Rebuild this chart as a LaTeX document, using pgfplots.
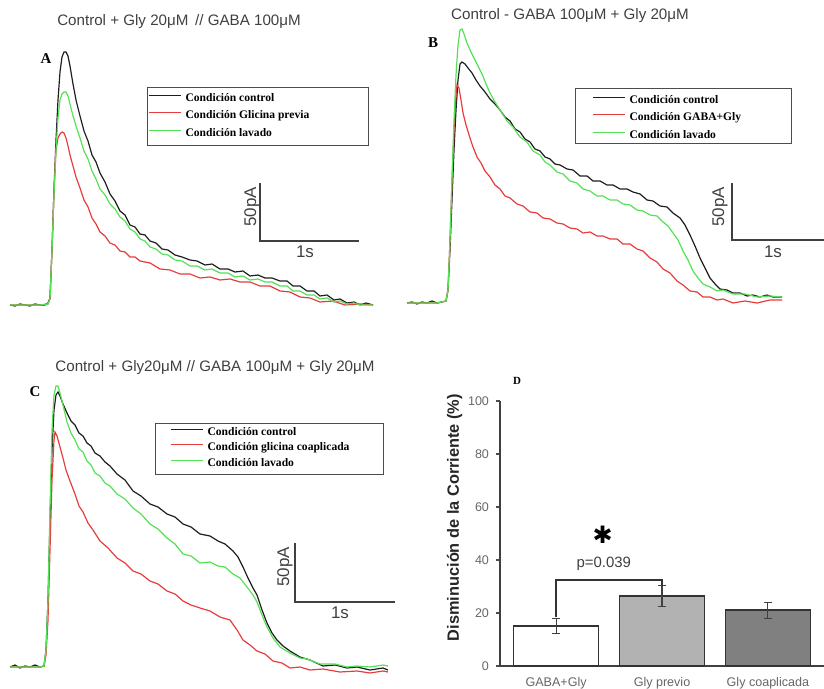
\documentclass[border=0pt]{standalone}
\usepackage{pgfplots}
\pgfplotsset{compat=1.18}
\usepackage{fontspec}
\setmainfont{Liberation Serif}
\setsansfont{Liberation Sans}
\newfontfamily\djv{DejaVu Sans}
\definecolor{tblack}{RGB}{30,30,30}
\definecolor{tred}{RGB}{232,60,60}
\definecolor{tgreen}{RGB}{85,225,85}
\newcommand\tfont{\sffamily\fontsize{7.6}{9}\selectfont\color{black!75}}
\newcommand\lfont{\rmfamily\bfseries\fontsize{5.8}{6.5}\selectfont}
\newcommand\sfont{\sffamily\fontsize{8.5}{10}\selectfont\color{black!75}}
\newcommand\pfont{\rmfamily\bfseries\fontsize{7.5}{9}\selectfont}
\pgfplotsset{
  pix/.style={at={(0,0)}, anchor=south west, scale only axis, width=412bp, height=344.5bp,
    xmin=0, xmax=824, ymin=0, ymax=689, y dir=reverse, hide axis, clip=false,
    legend cell align=left,
    legend image code/.code={\draw[##1, line width=0.6pt] (0bp,1.6bp) -- (16bp,1.6bp);},
    legend style={draw=none, fill=none, inner sep=0pt, row sep=3.25bp,
      nodes={inner sep=0pt, text height=4.2bp, text depth=1.3bp, font=\lfont},
      /tikz/every odd column/.append style={column sep=2bp}}},
  tr/.style={line width=0.6pt, no marks},
}
\begin{document}
\begin{tikzpicture}
\useasboundingbox (0,0) rectangle (412bp,344.5bp);
% ---------------- Panel A ----------------
\begin{axis}[pix, legend style={at={(axis cs:148,92.6)}, anchor=north west}]
\addplot[tr, tblack] coordinates {(10,305)(15,306)(20,304)(25,305)(30,306)(35,304)(40,305)(45,305)(48,303)(50,298)(52,250)(54,190)(56,140)(58,100)(60,72)(62,57)(64,52)(66,52)(68,56)(70,66)(73,84)(76,100)(80,116)(84,131)(88,141)(92,155)(96,162)(100,173)(105,182)(110,194)(115,201)(120,211)(125,215)(130,225)(135,227)(140,234)(145,235)(150,241)(156,243)(162,249)(168,250)(175,255)(182,257)(190,260)(197,261)(205,265)(212,264)(220,269)(228,269)(235,272)(243,271)(250,276)(258,275)(265,278)(272,278)(280,281)(287,281)(293,286)(300,286)(307,291)(314,291)(320,296)(327,295)(334,300)(340,299)(347,303)(354,302)(360,305)(366,303)(373,305)};
\addlegendentry{Condición control}
\addplot[tr, tred] coordinates {(10,305)(20,305)(30,305)(40,305)(48,304)(50,299)(52,250)(54,190)(56,150)(58,138)(60,134)(62,132)(64,133)(66,138)(68,146)(70,155)(73,166)(76,177)(80,188)(84,200)(88,207)(92,218)(96,224)(100,232)(105,236)(110,243)(115,245)(120,251)(125,252)(130,257)(135,257)(140,261)(150,263)(160,269)(170,270)(180,274)(190,274)(200,278)(210,277)(220,280)(230,279)(240,282)(250,282)(260,286)(270,286)(280,291)(290,292)(300,297)(310,298)(320,302)(333,301)(345,305)(360,304)(373,305)};
\addlegendentry{Condición Glicina previa}
\addplot[tr, tgreen] coordinates {(10,305)(20,305)(30,305)(40,305)(48,304)(50,299)(52,250)(54,195)(56,150)(58,118)(60,100)(62,94)(64,92)(66,92)(68,96)(70,104)(73,116)(76,126)(80,138)(84,151)(88,159)(92,171)(96,179)(100,189)(105,195)(110,204)(115,209)(120,217)(125,221)(130,229)(135,232)(140,239)(145,241)(150,247)(156,249)(162,254)(168,255)(175,260)(182,261)(190,266)(197,266)(205,270)(212,269)(220,273)(228,273)(235,277)(243,276)(250,280)(258,279)(265,282)(272,282)(280,286)(287,286)(293,291)(300,291)(307,295)(314,295)(320,299)(327,298)(334,302)(340,301)(347,304)(354,303)(360,305)(373,305)};
\addlegendentry{Condición lavado}
\draw[black!70, line width=0.5pt] (axis cs:147,88) rectangle (axis cs:368,146);
\draw[black!75, line width=0.6pt] (axis cs:260,183) -- (axis cs:260,241) -- (axis cs:359,241);
\node[rotate=90] at (axis cs:252,207) {\sfont 50pA};
\node at (axis cs:305,252) {\sfont 1s};
\node at (axis cs:179,22) {\tfont Control + Gly 20μM \,// GABA 100μM};
\node at (axis cs:46,59) {\pfont A};
\end{axis}
% ---------------- Panel B ----------------
\begin{axis}[pix, legend style={at={(axis cs:592,94.5)}, anchor=north west}]
\addplot[tr, tblack] coordinates {(407,303)(412,302)(417,304)(422,302)(427,303)(432,301)(437,303)(442,302)(446,301)(448,290)(450,250)(452,200)(454,150)(456,110)(458,80)(460,64)(462,62)(465,64)(468,68)(472,73)(476,80)(480,86)(485,92)(490,99)(495,104)(500,110)(505,117)(510,121)(515,129)(520,132)(525,139)(530,142)(535,149)(540,151)(545,157)(550,159)(555,164)(560,165)(567,169)(573,170)(580,176)(587,176)(593,181)(600,181)(607,185)(613,185)(620,189)(627,189)(633,192)(640,194)(647,200)(653,201)(660,206)(667,207)(673,213)(680,218)(685,225)(690,235)(695,246)(700,258)(705,268)(710,278)(715,284)(720,289)(727,290)(733,293)(740,293)(747,296)(753,295)(760,297)(767,295)(773,297)(782,297)};
\addlegendentry{Condición control}
\addplot[tr, tred] coordinates {(407,303)(417,303)(427,303)(437,303)(446,301)(448,290)(450,240)(452,180)(454,130)(456,95)(457,85)(459,88)(461,100)(463,113)(466,125)(470,138)(473,147)(477,157)(481,163)(485,171)(490,177)(495,185)(500,189)(505,196)(510,198)(517,204)(523,206)(530,212)(537,213)(543,218)(550,219)(557,223)(563,224)(570,228)(577,229)(583,233)(590,232)(597,236)(603,236)(610,239)(617,239)(623,244)(630,244)(637,249)(643,251)(650,258)(657,262)(663,269)(670,273)(677,281)(683,285)(690,291)(697,292)(703,297)(710,297)(717,300)(723,299)(733,303)(745,301)(757,303)(770,300)(782,300)};
\addlegendentry{Condición GABA+Gly}
\addplot[tr, tgreen] coordinates {(407,303)(417,303)(427,303)(437,303)(446,301)(448,290)(450,240)(452,180)(454,120)(456,75)(458,45)(460,30)(462,29)(464,34)(467,43)(470,50)(474,58)(478,66)(482,74)(486,84)(490,93)(495,102)(500,110)(507,121)(513,127)(520,137)(527,142)(533,151)(540,155)(545,162)(550,165)(557,172)(563,174)(570,181)(577,183)(583,189)(590,191)(597,196)(603,196)(610,200)(617,200)(623,204)(630,205)(637,210)(643,211)(650,215)(657,216)(663,222)(668,226)(673,233)(678,240)(683,251)(688,260)(693,271)(698,278)(703,284)(710,287)(717,291)(723,290)(733,294)(745,294)(757,297)(770,296)(782,297)};
\addlegendentry{Condición lavado}
\draw[black!70, line width=0.5pt] (axis cs:575,89) rectangle (axis cs:791,144);
\draw[black!75, line width=0.6pt] (axis cs:732,183) -- (axis cs:732,240) -- (axis cs:824,240);
\node[rotate=90] at (axis cs:720,207) {\sfont 50pA};
\node at (axis cs:773,252) {\sfont 1s};
\node at (axis cs:570,16) {\tfont Control - GABA 100μM + Gly 20μM};
\node at (axis cs:433,43) {\pfont B};
\end{axis}
% ---------------- Panel C ----------------
\begin{axis}[pix, legend style={at={(axis cs:170,426.5)}, anchor=north west, row sep=2.3bp}]
\addplot[tr, tblack] coordinates {(10,667)(15,665)(20,668)(25,666)(30,667)(35,665)(40,667)(44,666)(46,650)(48,600)(50,520)(52,450)(54,410)(56,395)(58,392)(60,396)(63,404)(67,413)(71,421)(75,425)(79,433)(83,436)(87,443)(91,446)(95,453)(100,456)(105,462)(110,466)(117,474)(125,480)(133,491)(141,496)(150,504)(158,507)(167,514)(175,517)(183,524)(191,527)(200,534)(210,536)(218,541)(225,544)(233,551)(238,557)(243,567)(248,578)(253,588)(257,595)(262,610)(267,623)(272,633)(277,640)(283,646)(290,651)(300,657)(310,660)(323,666)(335,665)(347,668)(357,667)(370,670)(383,668)(388,670)};
\addlegendentry{Condición control}
\addplot[tr, tred] coordinates {(10,667)(20,667)(30,667)(40,667)(44,666)(46,655)(48,620)(50,550)(52,480)(54,440)(55,432)(57,436)(60,447)(63,458)(66,470)(70,481)(75,494)(79,506)(83,512)(88,523)(93,530)(100,541)(108,548)(117,558)(125,563)(133,571)(141,574)(150,581)(158,584)(167,591)(175,594)(183,601)(191,605)(200,608)(210,611)(220,617)(230,620)(237,630)(243,640)(250,645)(257,651)(265,654)(273,661)(282,663)(290,668)(300,667)(310,670)(323,669)(340,672)(357,671)(370,673)(383,671)(388,672)};
\addlegendentry{Condición glicina coaplicada}
\addplot[tr, tgreen] coordinates {(10,667)(20,667)(30,667)(40,667)(44,666)(46,650)(48,600)(50,510)(52,430)(54,395)(56,386)(58,386)(60,393)(63,405)(67,422)(71,433)(75,440)(79,449)(83,452)(87,461)(91,465)(95,473)(100,476)(105,483)(110,486)(117,494)(125,499)(133,508)(141,514)(150,524)(158,529)(167,538)(175,544)(183,554)(191,556)(200,563)(210,562)(218,566)(225,567)(233,574)(240,578)(247,587)(253,595)(257,602)(262,615)(267,627)(273,638)(280,647)(290,653)(300,658)(307,659)(320,664)(335,664)(347,667)(357,666)(370,667)(383,665)(388,666)};
\addlegendentry{Condición lavado}
\draw[black!70, line width=0.5pt] (axis cs:155,423) rectangle (axis cs:383,474);
\draw[black!75, line width=0.6pt] (axis cs:295,543) -- (axis cs:295,602) -- (axis cs:395,602);
\node[rotate=90] at (axis cs:285,567) {\sfont 50pA};
\node at (axis cs:340,613) {\sfont 1s};
\node at (axis cs:215,368) {\tfont Control + Gly20μM // GABA 100μM + Gly 20μM};
\node at (axis cs:35,392) {\pfont C};
\node at (axis cs:517,381) {\pfont\fontsize{5.5}{6}\selectfont D};
\end{axis}
% ---------------- Panel D ----------------
\begin{axis}[at={(250bp,11.5bp)}, anchor=south west, scale only axis, width=162bp, height=132.5bp,
  xmin=-0.53, xmax=2.53, ymin=0, ymax=100,
  axis x line*=bottom, axis y line*=left,
  axis line style={black!75, line width=0.7pt},
  ytick={0,20,40,60,80,100}, tick align=outside, major tick length=2bp,
  tick style={black!70, line width=0.6pt},
  xtick={0,1,2}, xticklabels={GABA+Gly, Gly previo, Gly coaplicada},
  xtick style={draw=none},
  ticklabel style={font=\sffamily\fontsize{6.3}{7}\selectfont, text=black!60},
  /pgf/number format/assume math mode=true,
  ylabel={Disminución de la Corriente (\%)},
  ylabel style={font=\sffamily\bfseries\fontsize{8.2}{9}\selectfont, text=black!85, at={(ticklabel cs:0.56)}},
  ylabel shift=-4bp,
  clip=false]
\addplot[ybar, bar width=0.8, bar shift=0pt, fill=white, draw=black!80, line width=0.7pt,
  error bars/.cd, y dir=both, y explicit, error bar style={black!75, line width=0.6pt},
  error mark options={rotate=90, mark size=2bp, black!75}] coordinates {(0,15.1) +- (0,2.8)};
\addplot[ybar, bar width=0.8, bar shift=0pt, fill={rgb,255:red,178;green,178;blue,178}, draw=black!80, line width=0.7pt,
  error bars/.cd, y dir=both, y explicit, error bar style={black!75, line width=0.6pt},
  error mark options={rotate=90, mark size=2bp, black!75}] coordinates {(1,26.4) +- (0,3.9)};
\addplot[ybar, bar width=0.8, bar shift=0pt, fill={rgb,255:red,128;green,128;blue,128}, draw=black!80, line width=0.7pt,
  error bars/.cd, y dir=both, y explicit, error bar style={black!75, line width=0.6pt},
  error mark options={rotate=90, mark size=2bp, black!75}] coordinates {(2,21.1) +- (0,3.0)};
\draw[black!80, line width=0.7pt] (axis cs:0,18.5) -- (axis cs:0,32.5) -- (axis cs:1,32.5) -- (axis cs:1,30.3);
\node at (axis cs:0.45,38.5) {\sffamily\fontsize{7.5}{9}\selectfont\color{black!75}p=0.039};
\node[inner sep=0pt] at (axis cs:0.44,49.4) {\djv\fontsize{12}{12}\selectfont ✱};
\end{axis}
\end{tikzpicture}
\end{document}
